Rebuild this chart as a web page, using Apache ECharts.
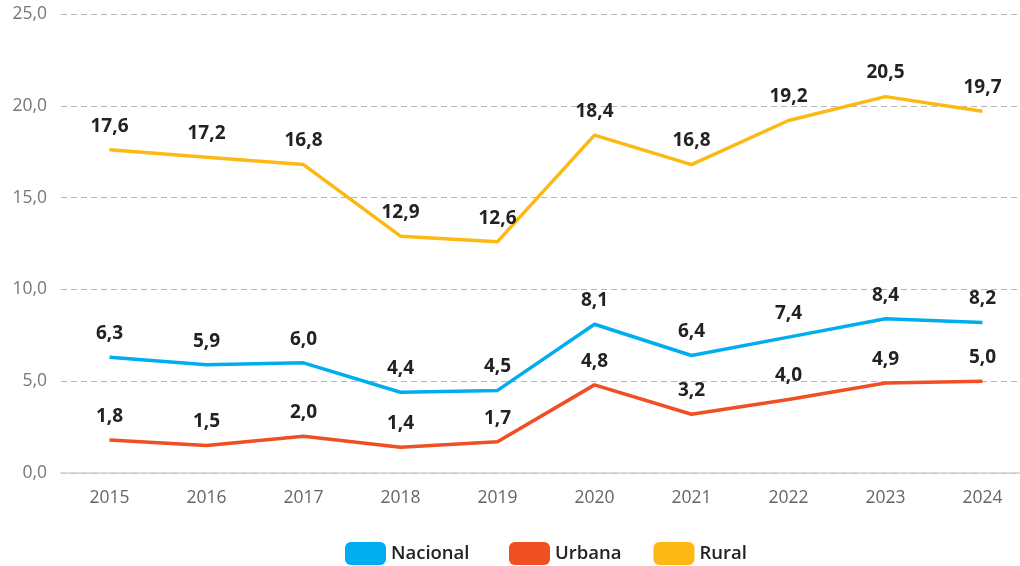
<!DOCTYPE html>
<html>
<head>
<meta charset="utf-8">
<script src="https://cdn.jsdelivr.net/npm/echarts@6/dist/echarts.min.js"></script>
<style>html,body{margin:0;padding:0;background:#fff;}#c{width:1020px;height:566px;}</style>
</head>
<body>
<div id="c"></div>
<script>
const categories = ['2015','2016','2017','2018','2019','2020','2021','2022','2023','2024'];
const nacional = [6.3,5.9,6.0,4.4,4.5,8.1,6.4,7.4,8.4,8.2];
const urbana = [1.8,1.5,2.0,1.4,1.7,4.8,3.2,4.0,4.9,5.0];
const rural = [17.6,17.2,16.8,12.9,12.6,18.4,16.8,19.2,20.5,19.7];
const seriesNames = ['Nacional','Urbana','Rural'];
const colors = ['#00AEEF','#F04E23','#FDB913'];

const fmt = v => v.toFixed(1).replace('.', ',');
const chart = echarts.init(document.getElementById('c'));
const mk = (name, data, color) => ({
  name, type: 'line', data, symbol: 'circle', symbolSize: 0.1, showSymbol: true, smooth: false,
  lineStyle: { color, width: 3.5 }, itemStyle: { color },
  labelLayout: { hideOverlap: false },
  label: { show: true, position: 'top', distance: 14,
    formatter: p => fmt(p.value),
    fontFamily: 'Open Sans', fontWeight: 'bold', fontSize: 19, color: '#222' }
});
const legendBase = {
  bottom: 1, padding: 0,
  icon: 'roundRect', itemWidth: 41, itemHeight: 23, itemGap: 32,
  textStyle: { fontFamily: 'Open Sans', fontWeight: 600, fontSize: 18.5, color: '#222' }
};
chart.setOption({
  animation: false,
  textStyle: { fontFamily: 'Open Sans' },
  grid: { left: 61, width: 970, top: 14, bottom: 93, containLabel: false, outerBoundsMode: 'none' },
  xAxis: {
    type: 'category', data: categories, boundaryGap: true,
    axisLine: { lineStyle: { color: '#d0d0d0', width: 1.5 } },
    axisTick: { show: false },
    axisLabel: { color: '#666', fontSize: 17.5, margin: 16, fontFamily: 'Open Sans' }
  },
  yAxis: {
    type: 'value', min: 0, max: 25, interval: 5,
    axisLabel: { color: '#777', fontSize: 17.5, margin: 14, formatter: v => fmt(v), fontFamily: 'Open Sans' },
    splitLine: { lineStyle: { color: '#b5b5b5', type: [6, 4], width: 1 } },
    axisLine: { show: false }, axisTick: { show: false }
  },
  legend: [
    Object.assign({}, legendBase, { data: [seriesNames[0]], left: 345 }),
    Object.assign({}, legendBase, { data: [seriesNames[1], seriesNames[2]], left: 509 })
  ],
  series: [mk(seriesNames[0], nacional, colors[0]), mk(seriesNames[1], urbana, colors[1]), mk(seriesNames[2], rural, colors[2])]
});
</script>
</body>
</html>
